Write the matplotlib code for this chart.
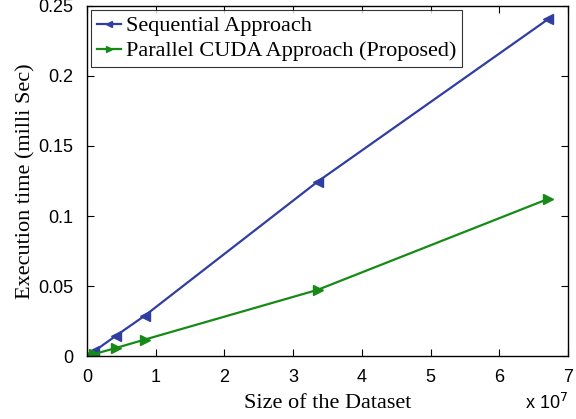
import numpy as np
import matplotlib
matplotlib.use("Agg")
import matplotlib.pyplot as plt

# dataset sizes (number of elements)
sizes = np.array([65536, 262144, 1048576, 4194304, 8388608, 33554432, 67108864])
# execution times (milli sec)
seq_time = np.array([0.0003, 0.001, 0.0035, 0.0145, 0.0288, 0.1245, 0.2405])
cuda_time = np.array([0.0001, 0.0004, 0.0015, 0.0058, 0.0118, 0.0473, 0.1122])

xticks = [0, 1, 2, 3, 4, 5, 6, 7]
yticks = [0, 0.05, 0.1, 0.15, 0.2, 0.25]
ytick_labels = ["0", "0.05", "0.1", "0.15", "0.2", "0.25"]

blue = "#2f3ea0"
green = "#168a16"

fig = plt.figure(figsize=(5.76, 4.19), dpi=100)
ax = fig.add_axes([0.151, 0.150, 0.835, 0.836])

ax.plot(sizes / 1e7, seq_time, color=blue, lw=1.6, marker="<", ms=6.5,
        label="Sequential Approach")
ax.plot(sizes / 1e7, cuda_time, color=green, lw=1.6, marker=">", ms=6.5,
        label="Parallel CUDA Approach (Proposed)")

ax.set_xlim(0, 7)
ax.set_ylim(0, 0.25)
ax.set_xticks(xticks)
ax.set_xticklabels([str(t) for t in xticks])
ax.set_yticks(yticks)
ax.set_yticklabels(ytick_labels)
ax.tick_params(direction="in", top=True, right=True, length=5, width=0.8,
               labelsize=13)
ax.tick_params(axis="x", pad=9)
ax.tick_params(axis="y", pad=10)
for lab in ax.get_xticklabels() + ax.get_yticklabels():
    lab.set_family("Liberation Sans")
for s in ax.spines.values():
    s.set_linewidth(1.0)

ax.set_xlabel("Size of the Dataset", family="Liberation Serif", fontsize=16,
              labelpad=6)
ax.set_ylabel("Execution time (milli Sec)", family="Liberation Serif",
              fontsize=16, labelpad=2)
ax.text(1.0, -0.105, r"x 10$^7$", transform=ax.transAxes, ha="right",
        va="top", family="Liberation Sans", fontsize=13)

leg = ax.legend(loc="upper left", prop={"family": "Liberation Serif", "size": 16},
                fancybox=False, edgecolor="black", handlelength=1.1,
                handletextpad=0.2, borderpad=0.25, labelspacing=0.2,
                borderaxespad=0.2, markerscale=0.6)
leg.get_frame().set_linewidth(0.8)

fig.savefig("out.png", dpi=100)
